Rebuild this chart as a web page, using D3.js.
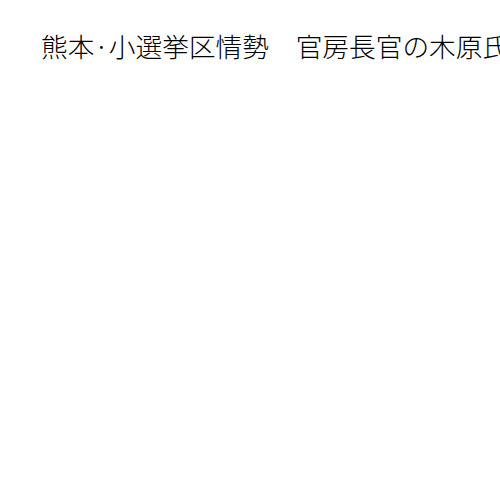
<!DOCTYPE html>
<html>
<head>
<meta charset="utf-8">
<script src="https://cdn.jsdelivr.net/npm/d3@7"></script>
<style>
  html, body { margin: 0; padding: 0; background: #fff; overflow: hidden; }
</style>
</head>
<body>
<div id="chart"></div>
<script>
const titleParts = ["熊本·小選挙区情勢", "官房長官の木原氏"];
const categories = [];
const values = [];

const width = 500, height = 500;
const svg = d3.select("#chart").append("svg")
  .attr("width", width).attr("height", height)
  .style("display", "block");

svg.append("text")
  .attr("x", 41)
  .attr("y", 57)
  .attr("font-family", "'Noto Sans CJK JP', sans-serif")
  .attr("font-size", 26.7)
  .attr("font-weight", 300)
  .attr("fill", "#000")
  .attr("xml:space", "preserve")
  .style("white-space", "pre")
  .text(titleParts.join("\u3000"));
</script>
</body>
</html>
